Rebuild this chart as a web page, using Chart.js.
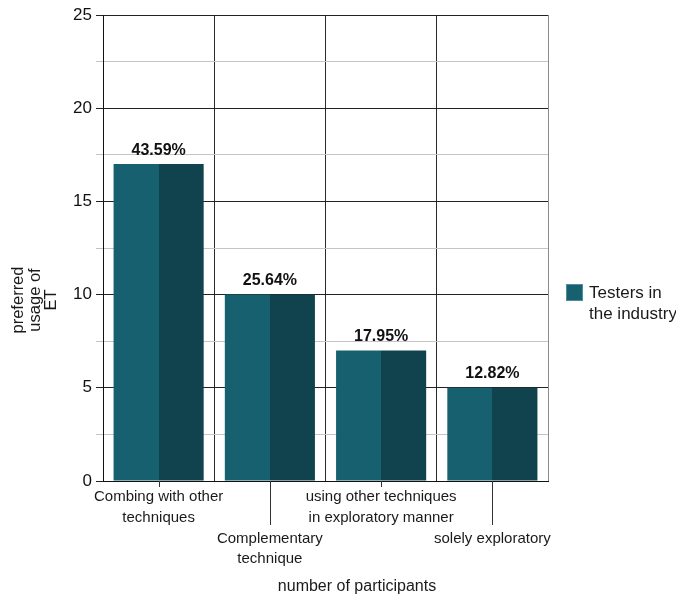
<!DOCTYPE html>
<html>
<head>
<meta charset="utf-8">
<script src="https://cdn.jsdelivr.net/npm/chart.js@4.4.0/dist/chart.umd.min.js"></script>
<style>
  html, body { margin: 0; padding: 0; background: #fff; }
  canvas { display: block; }
</style>
</head>
<body>
<canvas id="c" width="676" height="596"></canvas>
<script>
// Survey answers: how testers prefer to use exploratory testing (ET)
const categories = [
  ["Combing with other", "techniques"],
  ["Complementary", "technique"],
  ["using other techniques", "in exploratory manner"],
  ["solely exploratory"]
];
const participants = [17, 10, 7, 5];
const seriesName = ["Testers in", "the industry"];
const yTitle = ["preferred", "usage of", "ET"];
const xTitle = "number of participants";
const yMin = 0;
const yMax = 25;
const yStep = 2.5;
const yLabelStep = 5;

const FONT = "'Liberation Sans', Arial, Helvetica, sans-serif";
const LIGHT = "#16606f";
const DARK = "#11434f";
const total = participants.reduce((a, b) => a + b, 0);

Chart.defaults.font.family = FONT;
Chart.defaults.color = "#1a1a1a";

// Two-tone bar fill: lighter left half, darker right half, split at the bar centre
function splitFill(c) {
  const chart = c.chart;
  const xs = chart.scales && chart.scales.x;
  if (!chart.chartArea || !xs || c.dataIndex === undefined) return LIGHT;
  const cx = xs.getPixelForValue(c.dataIndex);
  const g = chart.ctx.createLinearGradient(cx - 1, 0, cx + 1, 0);
  g.addColorStop(0, LIGHT);
  g.addColorStop(0.5, LIGHT);
  g.addColorStop(0.5, DARK);
  g.addColorStop(1, DARK);
  return g;
}

// Percent labels above bars, staggered tick marks, axis titles and legend
const decorations = {
  id: "decorations",
  afterDatasetsDraw(chart) {
    const { ctx } = chart;
    const xs = chart.scales.x, ys = chart.scales.y;
    ctx.save();
    ctx.font = "bold 16px " + FONT;
    ctx.fillStyle = "#111";
    ctx.textAlign = "center";
    ctx.textBaseline = "bottom";
    participants.forEach((v, i) => {
      const pct = (v / total * 100).toFixed(2) + "%";
      ctx.fillText(pct, xs.getPixelForValue(i), ys.getPixelForValue(v) - 6);
    });
    ctx.restore();
  },
  afterDraw(chart) {
    const { ctx, chartArea } = chart;
    const xs = chart.scales.x;
    ctx.save();
    // tick marks under each category, long for every second one
    ctx.strokeStyle = "#333";
    ctx.lineWidth = 1;
    participants.forEach((v, i) => {
      const x = Math.round(xs.getPixelForValue(i)) + 0.5;
      ctx.beginPath();
      ctx.moveTo(x, chartArea.bottom);
      ctx.lineTo(x, chartArea.bottom + (i % 2 ? 44 : 6));
      ctx.stroke();
    });

    // y title, rotated, three lines
    ctx.fillStyle = "#1a1a1a";
    ctx.font = "16.5px " + FONT;
    ctx.textAlign = "center";
    ctx.textBaseline = "middle";
    ctx.save();
    ctx.translate(35, 300);
    ctx.rotate(-Math.PI / 2);
    yTitle.forEach((t, i) => ctx.fillText(t, 0, (i - 1) * 16.5));
    ctx.restore();

    // x title
    ctx.font = "16px " + FONT;
    ctx.fillText(xTitle, 357, 587);

    // legend
    const lx = chartArea.right + 18, ly = 284;
    ctx.fillStyle = LIGHT;
    ctx.fillRect(lx, ly, 17, 17);
    ctx.strokeStyle = "#4d8f9c";
    ctx.strokeRect(lx + 0.5, ly + 0.5, 16, 16);
    ctx.fillStyle = "#1a1a1a";
    ctx.font = "17px " + FONT;
    ctx.textAlign = "left";
    seriesName.forEach((t, i) => ctx.fillText(t, lx + 23, ly + 9 + i * 21));
    ctx.restore();
  }
};

new Chart(document.getElementById("c"), {
  type: "bar",
  data: {
    labels: categories,
    datasets: [
      { label: seriesName.join(" "), data: participants, backgroundColor: splitFill, borderWidth: 0 }
    ]
  },
  options: {
    responsive: false,
    animation: false,
    devicePixelRatio: 1,
    layout: { padding: { left: 0, right: 128, top: 15, bottom: 0 } },
    datasets: { bar: { categoryPercentage: 1.0, barPercentage: 0.81 } },
    plugins: { legend: { display: false }, tooltip: { enabled: false } },
    scales: {
      x: {
        offset: true,
        afterFit(scale) { scale.height = 115; },
        grid: {
          offset: true,
          drawTicks: false,
          color: (c) => (c.index === undefined ? "#8a8a8a" : "#2a2a2a")
        },
        border: { display: true, color: "#111", width: 1 },
        ticks: {
          autoSkip: false,
          maxRotation: 0,
          padding: 6,
          font: { size: 15, lineHeight: 1.37 },
          color: "#1a1a1a",
          callback: (v, i) => (i % 2 ? ["", ""].concat(categories[i]) : categories[i])
        }
      },
      y: {
        min: yMin,
        max: yMax,
        afterFit(scale) { scale.width = 103; },
        grid: {
          color: (c) => (c.tick && c.tick.value % yLabelStep === 0 ? "#222" : "#c4c4c4"),
          tickColor: (c) => (c.tick && c.tick.value % yLabelStep === 0 ? "#222" : "#c4c4c4"),
          tickLength: 7
        },
        border: { display: true, color: "#111", width: 1 },
        ticks: {
          stepSize: yStep,
          padding: 4,
          font: { size: 17 },
          color: "#111",
          callback: (v) => (v % yLabelStep === 0 ? v : "")
        }
      }
    }
  },
  plugins: [decorations]
});
</script>
</body>
</html>
